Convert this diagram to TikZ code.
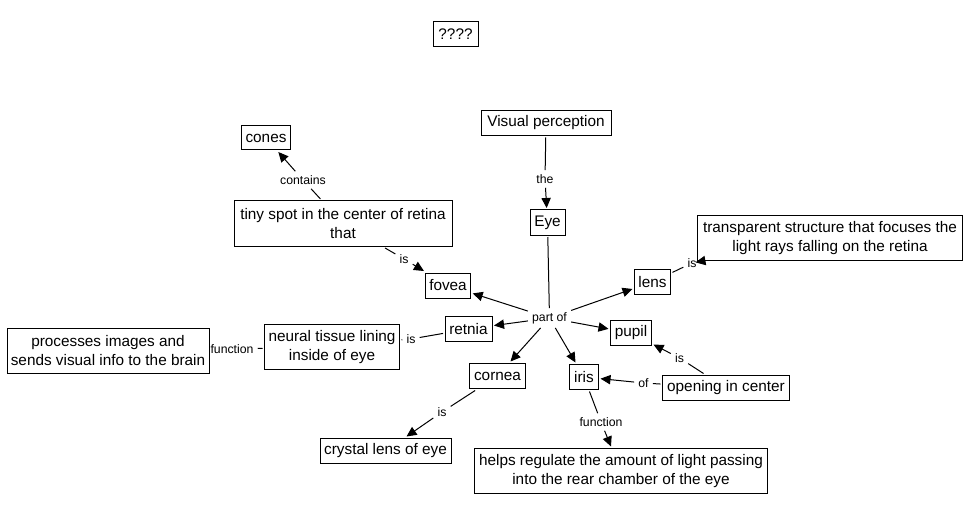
\documentclass[tikz,border=0pt]{standalone}
\usepackage{fontspec}
\setmainfont{Liberation Sans}
\usetikzlibrary{arrows.meta}
\begin{document}
\begin{tikzpicture}[x=0.75pt,y=-0.75pt,
  concept/.style={draw, line width=0.75pt, inner sep=0pt, outer sep=1.5pt,
    minimum height=18.75pt, font=\fontsize{11.5}{14.25}\selectfont, align=center},
  twoline/.style={minimum height=33.75pt},
  link/.style={inner sep=3pt, font=\fontsize{9.2}{11}\selectfont},
  conn/.style={line width=0.75pt},
  arr/.style={line width=0.75pt, -{Triangle[length=7.5pt,width=7pt]}}]
\fill[white] (0,0) rectangle (966,513);
\useasboundingbox (0,0) rectangle (966,513);
% concepts
\node[concept, minimum width=33.75pt] (q) at (455.5,34) {????};
\node[concept, minimum width=97.5pt] (vis) at (546,123) {Visual perception};
\node[concept, minimum width=26.25pt] (eye) at (547.5,222.5) {Eye};
\node[concept, minimum width=36.75pt, minimum height=18pt] (cones) at (266,138) {cones};
\node[concept, twoline, minimum width=163.5pt] (tiny) at (343,223.5) {tiny spot in the center of retina\\that};
\node[concept, minimum width=34pt, minimum height=18.75pt] (fovea) at (448,285.5) {fovea};
\node[concept, minimum width=27pt] (lens) at (652.5,282) {lens};
\node[concept, twoline, minimum width=198.75pt] (trans) at (830,238) {transparent structure that focuses the\\light rays falling on the retina};
\node[concept, minimum width=35.25pt] (retnia) at (468.5,329) {retnia};
\node[concept, minimum width=30.75pt] (pupil) at (631,333) {pupil};
\node[concept, twoline, minimum width=101.25pt] (neural) at (332,347) {neural tissue lining\\inside of eye};
\node[concept, twoline, minimum width=151.5pt] (proc) at (108,351) {processes images and\\sends visual info to the brain};
\node[concept, minimum width=42pt] (cornea) at (497.5,376) {cornea};
\node[concept, minimum width=21.75pt] (iris) at (584,377) {iris};
\node[concept, minimum width=95.25pt] (opening) at (726,388) {opening in center};
\node[concept, minimum width=98.25pt] (crystal) at (385.5,451) {crystal lens of eye};
\node[concept, twoline, minimum width=219.75pt] (helps) at (621,471) {helps regulate the amount of light passing\\into the rear chamber of the eye};
% linking phrases
\node[link] (the) at (545,179) {the};
\node[link] (partof) at (549.5,318) {part of};
\node[link] (contains) at (303,180) {contains};
\node[link] (isfovea) at (404,259) {is};
\node[link] (islens) at (692,263) {is};
\node[link] (isretnia) at (411,339) {is};
\node[link] (funcneural) at (232,349) {function};
\node[link] (iscornea) at (442,412) {is};
\node[link] (isopening) at (679.5,358) {is};
\node[link] (ofopening) at (643.5,383) {of};
\node[link] (funciris) at (601,422) {function};
% connectors
\draw[conn] (vis) -- (the);
\draw[arr] (the) -- (eye);
\draw[conn] (eye) -- (partof);
\draw[arr] (partof) -- (fovea);
\draw[arr] (partof) -- (retnia);
\draw[arr] (partof) -- (cornea);
\draw[arr] (partof) -- (iris);
\draw[arr] (partof) -- (pupil);
\draw[arr] (partof) -- (lens);
\draw[conn] (tiny) -- (contains);
\draw[arr] (contains) -- (cones);
\draw[conn] (tiny) -- (isfovea);
\draw[arr] (isfovea) -- (fovea);
\draw[conn] (lens) -- (islens);
\draw[arr] (islens) -- (trans);
\draw[conn] (retnia) -- (isretnia);
\draw[conn] (isretnia) -- (neural);
\draw[conn] (neural) -- (funcneural);
\draw[conn] (cornea) -- (iscornea);
\draw[arr] (iscornea) -- (crystal);
\draw[conn] (opening) -- (isopening);
\draw[arr] (isopening) -- (pupil);
\draw[conn] (opening) -- (ofopening);
\draw[arr] (ofopening) -- (iris);
\draw[conn] (iris) -- (funciris);
\draw[arr] (funciris) -- (helps);
\end{tikzpicture}
\end{document}
